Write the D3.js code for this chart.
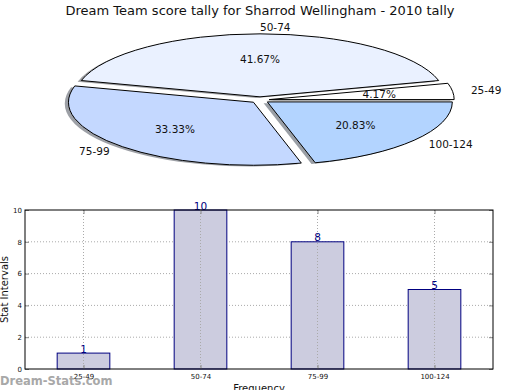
<!DOCTYPE html>
<html>
<head>
<meta charset="utf-8">
<script src="https://cdn.jsdelivr.net/npm/d3@7"></script>
<style>
body{margin:0;background:#fff;}
text{font-family:"DejaVu Sans",sans-serif;}
</style>
</head>
<body>
<div class="canvas"></div>
<script>
// data
const categories=['25-49','50-74','75-99','100-124'];
const counts=[1,10,8,5];
const sliceColours=['#ffffff','#eaf1ff','#c4d8ff','#b3d4ff'];
const yTicks=[0,2,4,6,8,10];
const title='Dream Team score tally for Sharrod Wellingham - 2010 tally';

const W=520,H=390;
const svg=d3.select('.canvas')
    .append('svg')
    .attr('width',W)
    .attr('height',H);

// title
svg.append('text')
    .attr('x',260).attr('y',14.5)
    .attr('text-anchor','middle')
    .attr('font-size',13)
    .attr('fill','#111')
    .text(title);

//--- pie (squashed ellipse, every slice pushed out a bit + shadow)
const pieDims={cx:260,cy:100,rx:185,ry:63,explode:0.05,shadow:0.02};
const squash=pieDims.ry/pieDims.rx;

// start at 3 o'clock, go counter clockwise like matplotlib
const pie=d3.pie()
    .sort(null)
    .startAngle(Math.PI/2)
    .endAngle(Math.PI/2-2*Math.PI)
    .value(d=>d);

const slices=pie(counts);

const arcPath=d3.arc()
    .innerRadius(0)
    .outerRadius(pieDims.rx);

const pieG=svg.append('g')
    .attr('transform',`translate(${pieDims.cx},${pieDims.cy}) scale(1,${squash})`);

const mid=d=>(d.startAngle+d.endAngle)/2;
const offset=(d,k)=>[k*pieDims.rx*Math.sin(mid(d)),-k*pieDims.rx*Math.cos(mid(d))];

// shadows go underneath everything
pieG.selectAll('path.shadow')
    .data(slices)
    .enter().append('path')
    .attr('class','shadow')
    .attr('d',arcPath)
    .attr('transform',d=>{
        const o=offset(d,pieDims.explode);
        return `translate(${o[0]-pieDims.shadow*pieDims.rx},${o[1]+pieDims.shadow*pieDims.rx})`;
    })
    .attr('fill',(d,i)=>{
        const c=d3.rgb(sliceColours[i]);
        return d3.rgb(c.r*0.3,c.g*0.3,c.b*0.3);
    })
    .attr('opacity',0.5);

pieG.selectAll('path.arc')
    .data(slices)
    .enter().append('path')
    .attr('class','arc')
    .attr('d',arcPath)
    .attr('transform',d=>{
        const o=offset(d,pieDims.explode);
        return `translate(${o[0]},${o[1]})`;
    })
    .attr('fill',(d,i)=>sliceColours[i])
    .attr('stroke','#000')
    .attr('stroke-width',1)
    .attr('stroke-linejoin','miter')
    .attr('vector-effect','non-scaling-stroke');

// labels live in plain screen coords
const toScreen=(d,dist)=>[
    pieDims.cx+dist*pieDims.rx*Math.sin(mid(d)),
    pieDims.cy-dist*pieDims.ry*Math.cos(mid(d))
];
const total=d3.sum(counts);

svg.selectAll('text.pieLabel')
    .data(slices)
    .enter().append('text')
    .attr('class','pieLabel')
    .attr('x',d=>toScreen(d,1.1+pieDims.explode)[0])
    .attr('y',d=>toScreen(d,1.1+pieDims.explode)[1])
    .attr('dy','0.35em')
    .attr('text-anchor',d=>Math.sin(mid(d))>-1e-9?'start':'end')
    .attr('font-size',10.5)
    .attr('fill','#111')
    .text((d,i)=>categories[i]);

svg.selectAll('text.pct')
    .data(slices)
    .enter().append('text')
    .attr('class','pct')
    .attr('x',d=>toScreen(d,0.6+pieDims.explode)[0])
    .attr('y',d=>toScreen(d,0.6+pieDims.explode)[1])
    .attr('dy','0.35em')
    .attr('text-anchor','middle')
    .attr('font-size',10.5)
    .attr('fill','#111')
    .text(d=>(d.value/total*100).toFixed(2)+'%');

//--- bar chart
const bar={left:25,right:493,top:210,bottom:369};

const x=d3.scalePoint()
    .domain(categories)
    .range([bar.left,bar.right])
    .padding(0.5);
const barW=x.step()*0.45;

const y=d3.scaleLinear()
    .domain([0,10])
    .range([bar.bottom,bar.top]);

const barG=svg.append('g');

// grid
barG.selectAll('line.hgrid')
    .data(yTicks.slice(1,-1))
    .enter().append('line')
    .attr('x1',bar.left).attr('x2',bar.right)
    .attr('y1',d=>y(d)).attr('y2',d=>y(d))
    .attr('stroke','#aaa')
    .attr('stroke-width',1)
    .attr('stroke-dasharray','1,2');

barG.selectAll('rect.bar')
    .data(counts)
    .enter().append('rect')
    .attr('class','bar')
    .attr('x',(d,i)=>x(categories[i])-barW/2)
    .attr('width',barW)
    .attr('y',d=>y(d))
    .attr('height',d=>y(0)-y(d))
    .attr('fill','#ccccdf')
    .attr('stroke','#000080')
    .attr('stroke-width',1);

barG.selectAll('line.vgrid')
    .data(categories)
    .enter().append('line')
    .attr('x1',d=>x(d)).attr('x2',d=>x(d))
    .attr('y1',bar.top).attr('y2',bar.bottom)
    .attr('stroke','#aaa')
    .attr('stroke-width',1)
    .attr('stroke-dasharray','1,2');

barG.selectAll('text.val')
    .data(counts)
    .enter().append('text')
    .attr('x',(d,i)=>x(categories[i]))
    .attr('y',d=>y(d)-0.5)
    .attr('text-anchor','middle')
    .attr('font-size',10.5)
    .attr('fill','#000080')
    .text(d=>d);

// axes (ticks pointing in)
const styleAxis=g=>{
    g.select('.domain').remove();
    g.selectAll('.tick line').attr('stroke','#888');
    g.selectAll('.tick text').attr('fill','#111').attr('font-family','"DejaVu Sans",sans-serif');
};

svg.append('g')
    .attr('transform',`translate(${bar.left},0)`)
    .call(d3.axisLeft(y).tickValues(yTicks).tickFormat(d3.format('d')).tickSize(-4).tickPadding(3))
    .attr('font-size',7)
    .call(styleAxis);

svg.append('g')
    .attr('transform',`translate(${bar.right},0)`)
    .call(d3.axisRight(y).tickValues(yTicks).tickFormat('').tickSize(-4))
    .call(styleAxis);

svg.append('g')
    .attr('transform',`translate(0,${bar.bottom})`)
    .call(d3.axisBottom(x).tickSize(-4).tickPadding(5))
    .attr('font-size',7)
    .call(styleAxis);

svg.append('g')
    .attr('transform',`translate(0,${bar.top})`)
    .call(d3.axisTop(x).tickFormat('').tickSize(-4))
    .call(styleAxis);

// frame
svg.append('rect')
    .attr('x',bar.left).attr('y',bar.top)
    .attr('width',bar.right-bar.left)
    .attr('height',bar.bottom-bar.top)
    .attr('fill','none')
    .attr('stroke','#000')
    .attr('stroke-width',1);

svg.append('text')
    .attr('transform',`translate(8,${(bar.top+bar.bottom)/2}) rotate(-90)`)
    .attr('text-anchor','middle')
    .attr('font-size',10)
    .attr('fill','#111')
    .text('Stat Intervals');

svg.append('text')
    .attr('x',(bar.left+bar.right)/2)
    .attr('y',392)
    .attr('text-anchor','middle')
    .attr('font-size',10)
    .attr('fill','#111')
    .text('Frequency');

// watermark
svg.append('text')
    .attr('x',0).attr('y',385)
    .attr('font-size',11.5)
    .attr('font-weight','bold')
    .attr('fill','#999')
    .attr('opacity',0.85)
    .text('Dream-Stats.com');
</script>
</body>
</html>
